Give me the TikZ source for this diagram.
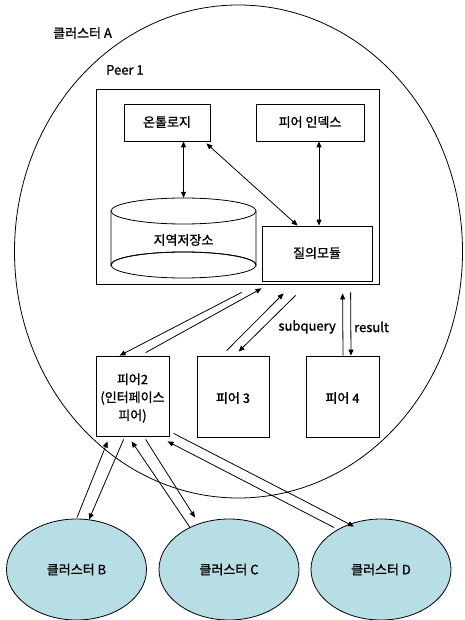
\documentclass[tikz,border=0pt]{standalone}
\usepackage{fontspec}
\setmainfont{Noto Sans CJK KR}[BoldFont={Noto Sans CJK KR},BoldFeatures={FakeBold=1.2}]
\usetikzlibrary{shapes.geometric,arrows.meta,calc}
\definecolor{clusterfill}{RGB}{183,222,228}
\tikzset{
  box/.style={draw=black,line width=0.8pt,fill=white,inner sep=0pt},
  lbl/.style={font=\fontsize{13}{18}\selectfont\bfseries,inner sep=0pt,align=center},
  clus/.style={draw=black,line width=0.8pt,ellipse,fill=clusterfill,inner sep=0pt,
    minimum width=140pt,minimum height=101pt,font=\fontsize{13}{15}\selectfont\bfseries},
  arr/.style={line width=0.8pt,-{Triangle[length=6pt,width=5pt]}},
  darr/.style={line width=0.8pt,{Triangle[length=6pt,width=5pt]}-{Triangle[length=6pt,width=5pt]}}
}
\begin{document}
\begin{tikzpicture}[x=1pt,y=-1pt]
\useasboundingbox (0,0) rectangle (464,620);
% cluster A
\node[draw=black,line width=0.8pt,ellipse,inner sep=0pt,minimum width=448pt,minimum height=493pt] (clA) at (238.5,251.5) {};
\node[lbl,anchor=west] (clAlbl) at (53,33) {클러스터 A};
\node[lbl,anchor=west] (p1lbl) at (106,70) {Peer 1};
% Peer 1 box
\node[box,minimum width=283pt,minimum height=195pt] (p1) at (237.5,186.5) {};
\node[box,minimum width=86pt,minimum height=37pt] (onto) at (167,122.5) {};
\node[lbl] (ontolbl) at (167,122) {온톨로지};
\node[box,minimum width=108pt,minimum height=37pt] (pidx) at (310,122.5) {};
\node[lbl] (pidxlbl) at (310,122) {피어 인덱스};
\node[box,minimum width=110pt,minimum height=55pt] (query) at (317,253.5) {};
\node[lbl] (querylbl) at (317,253) {질의모듈};
% storage cylinder
\draw[line width=0.8pt,fill=white] (111,211) -- (111,265) arc[start angle=180,end angle=360,x radius=72.5pt,y radius=-13pt] -- (256,211);
\draw[line width=0.8pt,fill=white] (183.5,211) ellipse[x radius=72.5pt,y radius=13pt];
\draw[line width=0.8pt] (183.5,265) ellipse[x radius=72.5pt,y radius=13pt];
\node[inner sep=0pt,minimum width=145pt,minimum height=80pt] (stor) at (183.5,238) {};
\node[lbl] (storlbl) at (183.5,240) {지역저장소};
% inner arrows
\draw[darr] (onto.south -| stor.north) -- (stor.north);
\draw[darr] ($(onto.south east)+(-4,2)$) -- ($(query.north west)+(36,0)$);
\draw[darr] ($(pidx.south)+(9,0)$) -- ($(query.north)+(2,0)$);
% peers
\node[box,minimum width=73pt,minimum height=80pt] (p2) at (132.5,396) {};
\node[lbl] (p2lbl) at (132.5,398) {피어2\\(인터페이스\\피어)};
\node[box,minimum width=72pt,minimum height=81pt] (p3) at (233,396.5) {};
\node[lbl] (p3lbl) at (233,398) {피어 3};
\node[box,minimum width=73pt,minimum height=81pt] (p4) at (342.5,396.5) {};
\node[lbl] (p4lbl) at (342.5,398) {피어 4};
\node[lbl,anchor=east] (subq) at (336,327) {subquery};
\node[lbl,anchor=west] (res) at (354,327) {result};
% peer1 <-> peers
\draw[arr] ($(p1.south west)+(146,8)$) -- ($(p2.north west)+(24,0)$);
\draw[arr] ($(p2.north west)+(50,-3)$) -- ($(p1.south west)+(166,4)$);
\draw[arr] ($(p3.north west)+(30,-5)$) -- ($(p1.south west)+(188,9)$);
\draw[arr] ($(p1.south west)+(200,11)$) -- ($(p3.north west)+(42,-4)$);
\draw[arr] (p4.north -| 343,0) -- ($(p1.south west)+(247,9)$);
\draw[arr] ($(p1.south west)+(255,8)$) -- (p4.north -| 351,0);
% clusters
\node[clus] (cB) at (76.5,569.5) {클러스터 B};
\node[clus] (cC) at (229,569.5) {클러스터 C};
\node[clus] (cD) at (381,569.5) {클러스터 D};
% peer2 <-> clusters
\draw[arr] ($(cB.center)+(0.5,-52)$) -- ($(p2.south west)+(12,5)$);
\draw[arr] ($(p2.south west)+(28,3)$) -- ($(cB.center)+(12.5,-50)$);
\draw[arr] ($(cC.center)+(-39,-42)$) -- ($(p2.south west)+(36,5)$);
\draw[arr] ($(p2.south west)+(50,3)$) -- ($(cC.center)+(-34,-52)$);
\draw[arr] ($(cD.center)+(-47,-42)$) -- ($(p2.south west)+(72,5)$);
\draw[arr] ($(p2.south west)+(78,-3)$) -- ($(cD.center)+(-27,-43)$);
\end{tikzpicture}
\end{document}
